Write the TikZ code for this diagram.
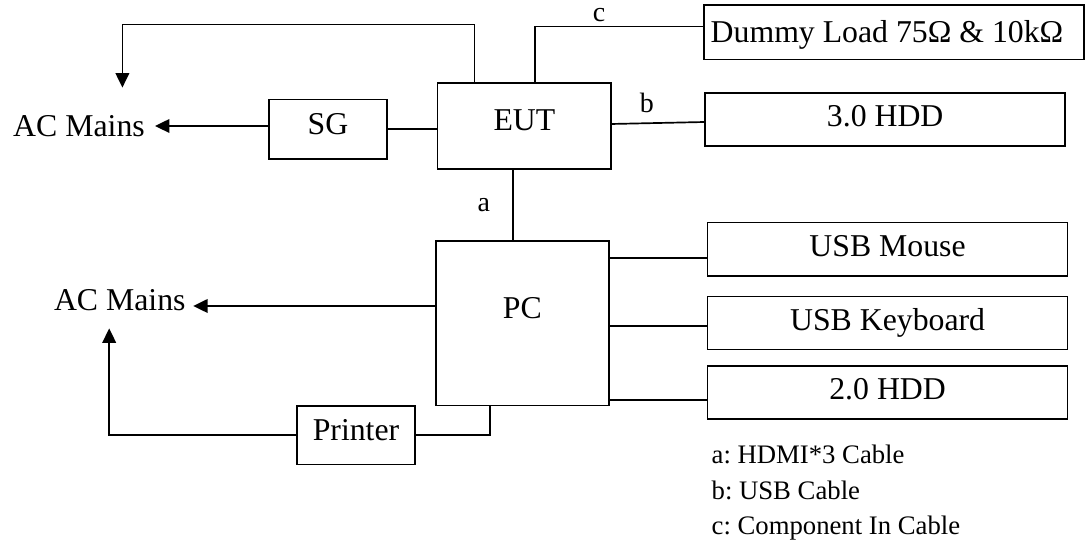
\documentclass[tikz,border=0pt]{standalone}
\usepackage{fontspec}
\setmainfont{Liberation Serif}
\usetikzlibrary{arrows.meta}
\frenchspacing
\newcommand{\mainsize}{\fontsize{22.6pt}{26pt}\selectfont}
\newcommand{\lblsize}{\fontsize{19.9pt}{23pt}\selectfont}
\newcommand{\legsize}{\fontsize{19pt}{22pt}\selectfont}
\tikzset{
  box/.style={draw, inner sep=0pt, outer sep=0pt, font=\mainsize, text height=14.9pt, text depth=7.9pt},
  rbox/.style={box, minimum width=9cm, minimum height=1.33cm, text depth=4.5pt},
  mains/.style={inner sep=0pt, font=\mainsize},
  lbl/.style={inner sep=0pt, font=\lblsize},
  legend/.style={inner sep=0pt, font=\legsize}
}
\begin{document}
\begin{tikzpicture}[line width=1.2pt, >={Triangle[length=0.36cm,width=0.34cm]}]
\useasboundingbox (0,0) rectangle (27.15,13.55);
% boxes
\node[box, minimum width=4.34cm, minimum height=2.16cm] (eut) at (13.11,10.40) {EUT};
\node[box, minimum width=2.935cm, minimum height=1.48cm] (sg) at (8.20,10.32) {SG};
\node[box, minimum width=4.33cm, minimum height=4.12cm, text depth=21.6pt] (pc) at (13.06,5.47) {PC};
\node[box, minimum width=2.94cm, minimum height=1.47cm] (printer) at (8.90,2.67) {Printer};
\node[box, minimum width=9.49cm, minimum height=1.355cm, text depth=0pt] (dummy) at (22.35,12.74) {Dummy Load 75Ω \& 10kΩ\hspace*{0.35cm}};
\node[rbox] (hdd3) at (22.13,10.56) {3.0 HDD};
\node[rbox] (mouse) at (22.19,7.32) {USB Mouse};
\node[rbox] (keyboard) at (22.19,5.475) {USB Keyboard};
\node[rbox] (hdd2) at (22.19,3.74) {2.0 HDD};
% mains
\node[mains, anchor=base west] (mainsA) at (0.31,10.125) {AC Mains};
\node[mains, anchor=base west] (mainsB) at (1.33,5.775) {AC Mains};
\coordinate (tipA) at (3.875,10.40);
\coordinate (tipB) at (4.83,5.90);
\coordinate (tipUp) at (2.73,5.34);
\coordinate (tipLoop) at (3.06,11.36);
% cables
\draw[->] (sg.west |- tipA) -- (tipA);
\draw (sg.east) -- (sg.east -| eut.west);
\draw[->] ([xshift=-1.25cm]eut.north) -- ++(0,1.46) -| (tipLoop);
\draw ([xshift=0.26cm]eut.north) |- ([yshift=0.15cm]dummy.west) node[lbl, above=2.4pt, pos=0.69] {c};
\draw ([yshift=0.05cm]eut.east) -- ([yshift=-0.06cm]hdd3.west) node[lbl, above=0.25cm, pos=0.38] {b};
\draw ([xshift=-0.29cm]eut.south) -- ([xshift=-0.29cm]eut.south |- pc.north) node[lbl, left=0.55cm, midway] {a};
\draw[->] (pc.west |- tipB) -- (tipB);
\foreach \dev/\dy in {mouse/-0.22, keyboard/-0.08, hdd2/-0.19}
  \draw ([yshift=\dy cm]\dev.west -| pc.east) -- ([yshift=\dy cm]\dev.west);
\draw ([xshift=-0.81cm]pc.south) |- (printer.east);
\draw[->] (printer.west) -| (tipUp);
% legend
\node[legend, anchor=base west] (legA) at (17.77,1.97) {a: HDMI*3 Cable};
\node[legend, anchor=base west] (legB) at (17.77,1.07) {b: USB Cable};
\node[legend, anchor=base west] (legC) at (17.77,0.175) {c: Component In Cable};
\end{tikzpicture}
\end{document}
